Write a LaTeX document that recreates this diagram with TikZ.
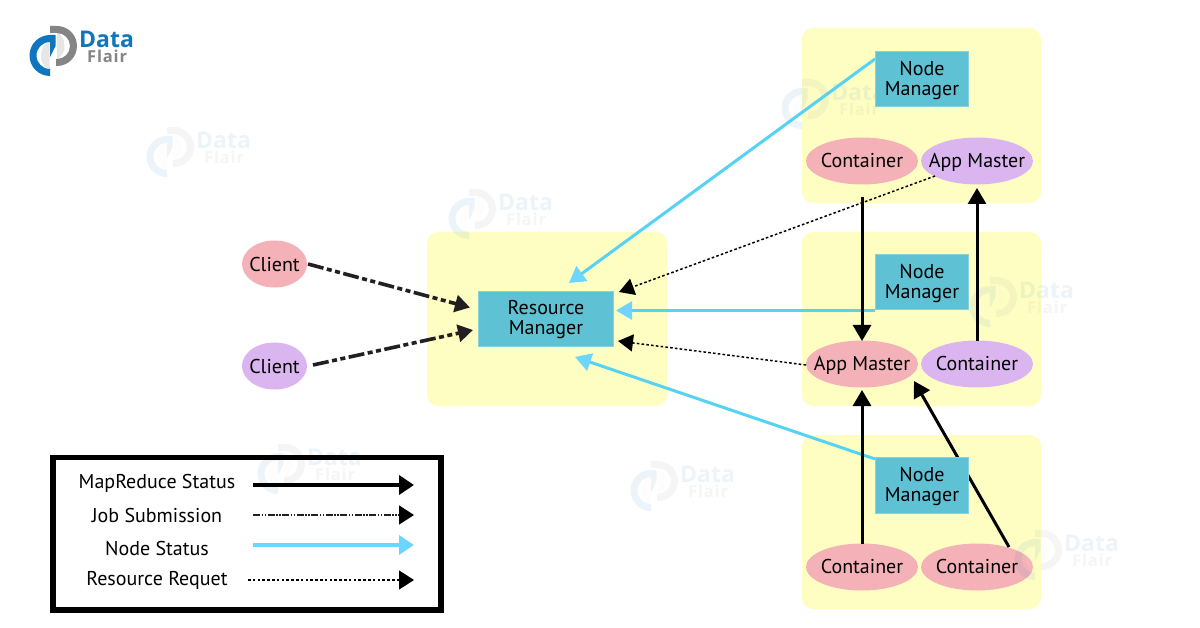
\documentclass[tikz,border=0pt]{standalone}
\usepackage{fontspec}
\setmainfont{PT Sans}
\newfontfamily\logofont{Open Sans}
\newfontfamily\logofontsp[LetterSpace=5]{Open Sans}
\usetikzlibrary{arrows.meta}
\definecolor{panelyellow}{HTML}{FEFEC3}
\definecolor{teal}{HTML}{5FC2D4}
\definecolor{tealedge}{HTML}{86D3DC}
\definecolor{pinkfill}{HTML}{F4B1B7}
\definecolor{purplefill}{HTML}{DBB5F0}
\definecolor{skyline}{HTML}{56D2F3}
\definecolor{skyhead}{HTML}{6DD6FF}
\definecolor{logoblue}{HTML}{0F76BE}
\definecolor{logogrey}{HTML}{858585}
\definecolor{logolight}{HTML}{E6E6E6}
\definecolor{inkblack}{HTML}{231F20}
\newcommand{\dflogo}[3]{%
  \begin{scope}[shift={(#1,#2)},opacity=#3,transparency group]
    \fill[logolight] (19.5,15) .. controls (9,20) and (7,38) .. (19.5,43) -- (19.5,33) -- cycle;
    \fill[logolight] (27,6) .. controls (37,12) and (37,28) .. (27,33) -- (27,24) -- cycle;
    \fill[logoblue] (20,50) arc[start angle=90,end angle=270,radius=20.5] -- (25.6,9) -- (25.6,20) -- (20,31) -- (20,16)
      arc[start angle=270,end angle=90,radius=13.5] -- cycle;
    \fill[logogrey] (20,0) -- (27,0) arc[start angle=-90,end angle=90,radius=20] -- (26,40) -- (26,33) -- (27,33)
      arc[start angle=90,end angle=-90,radius=13] -- (20,7) -- cycle;
    \node[anchor=west,inner sep=0pt,text=logoblue,font=\logofont\bfseries\fontsize{23}{23}\selectfont] (#1d) at (49,13) {Data};
    \node[anchor=west,inner sep=0pt,text=logogrey,font=\logofontsp\bfseries\fontsize{16.5}{16.5}\selectfont] (#1f) at (57,30) {Flair};
  \end{scope}}
\tikzset{
  x=1pt,y=-1pt,
  panel/.style={fill=panelyellow,rounded corners=11pt},
  lbl/.style={font=\fontsize{20}{20}\selectfont,text=black,align=center,inner sep=0pt},
  mgrbox/.style={fill=teal,draw=tealedge,line width=1pt},
  statusline/.style={line width=3pt,black,-{Triangle[length=16pt,width=18pt]}},
  nodeline/.style={line width=3pt,skyline,-{Triangle[length=16pt,width=18pt,color=skyhead]}},
  jobline/.style={line width=3.6pt,inkblack,dash pattern=on 16pt off 3.5pt on 5pt off 3.5pt on 5pt off 3.5pt,-{Triangle[length=15pt,width=17pt]}},
  reqline/.style={line width=1.5pt,black,dash pattern=on 2.6pt off 2.2pt,-{Triangle[length=15pt,width=17pt]}},
}
\begin{document}
\begin{tikzpicture}
\useasboundingbox (0,0) rectangle (1200,628);
\fill[white] (0,0) rectangle (1200,628);
% panels
\fill[panel] (427,232) rectangle (667,406);
\fill[panel] (802,28) rectangle (1041,203);
\fill[panel] (802,232) rectangle (1041,406);
\fill[panel] (802,435) rectangle (1041,609);
% ellipses
\fill[pinkfill] (274.5,264) ellipse [x radius=32.5,y radius=23.5];
\fill[purplefill] (274.5,366) ellipse [x radius=32.5,y radius=23.5];
\fill[pinkfill] (862,161) ellipse [x radius=56,y radius=23.5];
\fill[purplefill] (977,161) ellipse [x radius=56,y radius=23.5];
\fill[pinkfill] (862,364) ellipse [x radius=56,y radius=23.5];
\fill[purplefill] (977,364) ellipse [x radius=56,y radius=23.5];
\fill[pinkfill] (862,567) ellipse [x radius=56,y radius=23.5];
\fill[pinkfill] (977,567) ellipse [x radius=56,y radius=23.5];
% logo and watermarks
\dflogo{30}{26}{1}
\dflogo{147}{127}{0.08}
\dflogo{449}{189}{0.08}
\dflogo{258}{444}{0.08}
\dflogo{631}{461}{0.08}
\dflogo{782}{79}{0.08}
\dflogo{970}{277}{0.08}
\dflogo{1015}{530}{0.08}
% ellipse labels
\node[lbl] (client1) at (274.5,264.5) {Client};
\node[lbl] (client2) at (274.5,366.5) {Client};
\node[lbl] (cont1) at (862,160.5) {Container};
\node[lbl] (am1) at (977,162) {App Master};
\node[lbl] (am2) at (862,365) {App Master};
\node[lbl] (cont2) at (977,363.5) {Container};
\node[lbl] (cont3) at (862,566.5) {Container};
\node[lbl] (cont4) at (977,566.5) {Container};
% endpoints
\coordinate (c1s) at (308,264); \coordinate (c1t) at (470,307.5);
\coordinate (c2s) at (313,365); \coordinate (c2t) at (473,330);
\coordinate (n1s) at (875,59);  \coordinate (n1t) at (569,283);
\coordinate (n2s) at (875,310.5); \coordinate (n2t) at (616,310.5);
\coordinate (n3s) at (875,459); \coordinate (n3t) at (575,357);
\coordinate (r1s) at (935,176); \coordinate (r1t) at (619,292);
\coordinate (r2s) at (806,365); \coordinate (r2t) at (618,341);
\coordinate (b1s) at (862,197); \coordinate (b1t) at (862,341);
\coordinate (b2s) at (977,341); \coordinate (b2t) at (977,188);
\coordinate (b3s) at (862,544); \coordinate (b3t) at (862,390);
\coordinate (b4s) at (1009,547); \coordinate (b4t) at (914,381);
% connectors
\draw[jobline] (c1s) -- (c1t);
\draw[jobline] (c2s) -- (c2t);
\draw[nodeline] (n1s) -- (n1t);
\draw[nodeline] (n2s) -- (n2t);
\draw[nodeline] (n3s) -- (n3t);
\draw[reqline] (r1s) -- (r1t);
\draw[reqline] (r2s) -- (r2t);
\draw[statusline] (b1s) -- (b1t);
\draw[statusline] (b2s) -- (b2t);
\draw[statusline] (b3s) -- (b3t);
\draw[statusline] (b4s) -- (b4t);
% managers
\filldraw[mgrbox] (478.5,291.5) rectangle (613.5,346.5);
\node[lbl] (rm) at (546,320) {Resource\\Manager};
\filldraw[mgrbox] (875.5,51.5) rectangle (968.5,106.5);
\node[lbl] (nm1) at (922,80.5) {Node\\Manager};
\filldraw[mgrbox] (875.5,254.5) rectangle (968.5,309.5);
\node[lbl] (nm2) at (922,283.5) {Node\\Manager};
\filldraw[mgrbox] (875.5,457.5) rectangle (968.5,513.5);
\node[lbl] (nm3) at (922,486.5) {Node\\Manager};
% legend
\draw[line width=5.5pt,black] (53,457.5) rectangle (441,610);
\node[lbl] (l1) at (157,483) {MapReduce Status};
\node[lbl] (l2) at (157,515.5) {Job Submission};
\node[lbl] (l3) at (157,548.5) {Node Status};
\node[lbl] (l4) at (157,580) {Resource Requet};
\coordinate (l1s) at (253,485); \coordinate (l1t) at (414,485);
\coordinate (l2s) at (253,515); \coordinate (l2t) at (414,515);
\coordinate (l3s) at (253,545); \coordinate (l3t) at (414,545);
\coordinate (l4s) at (248,580); \coordinate (l4t) at (414,580);
\draw[line width=3.8pt,black,-{Triangle[length=15pt,width=19pt]}] (l1s) -- (l1t);
\draw[line width=1.4pt,inkblack,dash pattern=on 7pt off 1.5pt on 1.5pt off 1.5pt on 1.5pt off 1.5pt,-{Triangle[length=15pt,width=19pt,color=black]}] (l2s) -- (l2t);
\draw[line width=3.8pt,skyhead,-{Triangle[length=15pt,width=19pt]}] (l3s) -- (l3t);
\draw[line width=1.5pt,black,dash pattern=on 2.6pt off 2.2pt,-{Triangle[length=15pt,width=19pt]}] (l4s) -- (l4t);
\end{tikzpicture}
\end{document}
